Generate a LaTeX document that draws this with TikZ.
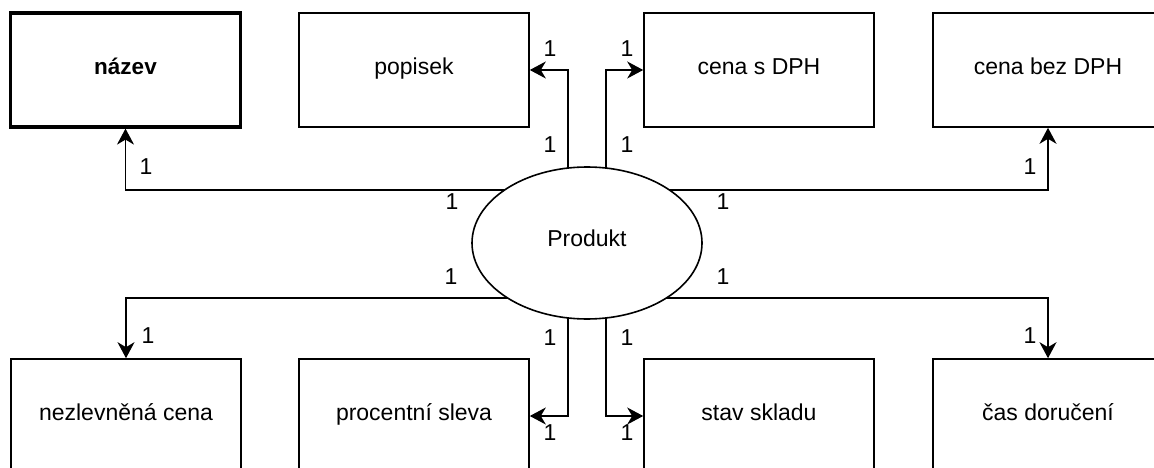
\documentclass[tikz,border=0pt]{standalone}
\usepackage{fontspec}
\setmainfont{Liberation Sans}
\usetikzlibrary{arrows.meta,shapes.geometric,calc,backgrounds}
\begin{document}
\begin{tikzpicture}[x=1pt,y=-1pt,
  txt/.style={font=\fontsize{23}{27}\selectfont},
  attr/.style={txt, draw, line width=1.6pt, rectangle, minimum width=230pt,
    minimum height=114pt, inner sep=0pt, text height=1.0em, text depth=0.18em},
  keyattr/.style={attr, line width=3.2pt, font=\fontsize{22.5}{27}\selectfont\bfseries},
  entity/.style={txt, draw, ellipse, fill=white, line width=1.6pt, minimum width=230pt,
    minimum height=152pt, inner sep=0pt, text height=0.716em, text depth=0pt},
  card/.style={txt, inner sep=0pt, text height=0.716em, text depth=0pt},
  conn/.style={line width=1.6pt, -{Stealth[length=16pt,width=17pt,inset=5pt]}}]
\useasboundingbox (0,0) rectangle (1154,468);

% entity
\node[entity] (prod) at (587,243) {Produkt};

% attributes, top row
\node[keyattr] (nazev) at (125.5,70) {název};
\node[attr] (popisek) at (414,70) {popisek};
\node[attr] (sdph) at (759,70) {cena s DPH};
\node[attr] (bezdph) at (1048,70) {cena bez DPH};

% attributes, bottom row
\node[attr] (nezl) at (126,416) {nezlevněná cena};
\node[attr] (sleva) at (414,416) {procentní sleva};
\node[attr] (sklad) at (759,416) {stav skladu};
\node[attr] (cas) at (1048,416) {čas doručení};

% connectors, drawn under the entity
\begin{pgfonlayer}{background}
\draw[conn] ($(prod.center)+(0,-53)$) -| (nazev.south);
\draw[conn] ($(prod.center)+(0,-53)$) -| (bezdph.south);
\draw[conn] ($(prod.center)+(0,55)$) -| (nezl.north);
\draw[conn] ($(prod.center)+(0,55)$) -| (cas.north);
\draw[conn] ($(prod.center)+(-19,0)$) |- (popisek.east);
\draw[conn] ($(prod.center)+(19,0)$) |- (sdph.west);
\draw[conn] ($(prod.center)+(-19,0)$) |- (sleva.east);
\draw[conn] ($(prod.center)+(19,0)$) |- (sklad.west);
\end{pgfonlayer}

% cardinalities
\node[card] (c1) at (146,171) {1};
\node[card] (c2) at (452,206) {1};
\node[card] (c3) at (550,53) {1};
\node[card] (c4) at (550,149) {1};
\node[card] (c5) at (627,53) {1};
\node[card] (c6) at (627,149) {1};
\node[card] (c7) at (723,206) {1};
\node[card] (c8) at (1030,171) {1};
\node[card] (c9) at (148,340) {1};
\node[card] (c10) at (451,281) {1};
\node[card] (c11) at (550,342) {1};
\node[card] (c12) at (550,437) {1};
\node[card] (c13) at (627,342) {1};
\node[card] (c14) at (627,437) {1};
\node[card] (c15) at (723,281) {1};
\node[card] (c16) at (1030,340) {1};
\end{tikzpicture}
\end{document}
